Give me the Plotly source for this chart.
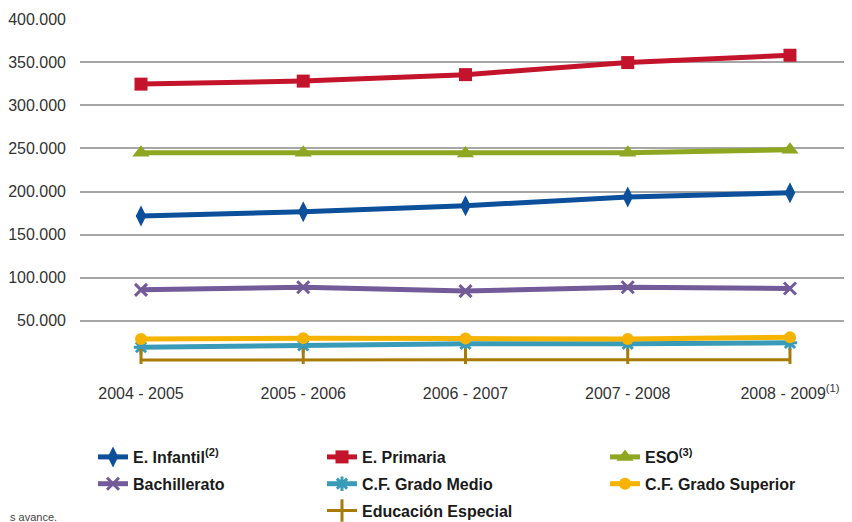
import plotly.graph_objects as go

categories = ["2004 - 2005", "2005 - 2006", "2006 - 2007", "2007 - 2008", "2008 - 2009<sup>(1)</sup>"]

infantil = [171500, 176500, 183500, 193500, 198500]
primaria = [324500, 328000, 335500, 349500, 358000]
eso = [245000, 245000, 244000, 245000, 248500]
bachillerato = [86000, 89000, 84500, 89000, 87500]
cf_medio = [19500, 21500, 23500, 23500, 24500]
cf_superior = [29000, 30000, 29500, 29000, 31000]
especial = [4500, 5000, 5000, 5000, 5000]

y_ticks = [0, 50000, 100000, 150000, 200000, 250000, 300000, 350000, 400000]
y_ticktext = ["", "50.000", "100.000", "150.000", "200.000", "250.000", "300.000", "350.000", "400.000"]

series = [
    ("E. Infantil<sup>(2)</sup>", infantil, "#0c4f9a", dict(symbol="diamond-tall", size=15), 5, "legend", 1),
    ("E. Primaria", primaria, "#c3142b", dict(symbol="square", size=13), 5, "legend2", 1),
    ("ESO<sup>(3)</sup>", eso, "#8ea620", dict(symbol="triangle-up", size=15), 5, "legend3", 1),
    ("Bachillerato", bachillerato, "#735a98", dict(symbol="x-thin", size=12, line=dict(width=3, color="#735a98")), 5, "legend", 2),
    ("C.F. Grado Medio", cf_medio, "#3a9bb9", dict(symbol="asterisk", size=12, line=dict(width=3, color="#3a9bb9")), 5, "legend2", 2),
    ("C.F. Grado Superior", cf_superior, "#f6b400", dict(symbol="circle", size=12), 5, "legend3", 2),
    ("Educación Especial", especial, "#a87a06", dict(symbol="line-ns", size=16, line=dict(width=3, color="#a87a06")), 3, "legend2", 3),
]

fig = go.Figure()
for name, vals, color, marker, lw, leg, rank in series:
    m = dict(color=color)
    m.update(marker)
    fig.add_trace(go.Scatter(
        x=list(range(len(categories))), y=vals, name=name, mode="lines+markers",
        line=dict(color=color, width=lw), marker=m, legend=leg, legendrank=rank,
        legendgroup=name,
    ))

# page has an 8px body margin; figure coordinates = page coordinates - 8
W, H = 844, 514
L, R, T, B = 72, 2, 11, 158
pw = W - L - R
ph = H - T - B

def px(x):
    return (x - L) / pw

def py(y):
    return (H - B - y) / ph

legfont = dict(family="Liberation Sans, Arial, sans-serif", size=16, color="#1a1a1a", weight="bold")
legcommon = dict(font=legfont, bgcolor="rgba(0,0,0,0)", xanchor="left", yanchor="top",
                 orientation="v", tracegroupgap=3, itemwidth=30)

fig.update_layout(
    width=W, height=H,
    margin=dict(l=L, r=R, t=T, b=B, autoexpand=False),
    paper_bgcolor="white", plot_bgcolor="white",
    font=dict(family="Liberation Sans, Arial, sans-serif", size=16, color="#333333"),
    xaxis=dict(range=[-0.376, 4.37], tickvals=list(range(len(categories))), ticktext=categories,
               showgrid=False, zeroline=False, showline=False, ticks="", ticklabelstandoff=18,
               automargin=False, tickfont=dict(size=16, color="#333333")),
    yaxis=dict(range=[0, 400000], tickvals=y_ticks, ticktext=y_ticktext, showgrid=True,
               gridcolor="#a6a6a6", gridwidth=1.5, zeroline=False, showline=False, ticks="",
               automargin=False, ticklabelstandoff=13, tickfont=dict(size=16, color="#333333")),
    legend=dict(x=px(85), y=py(432), **legcommon),
    legend2=dict(x=px(314), y=py(432), **legcommon),
    legend3=dict(x=px(597), y=py(432), **legcommon),
    showlegend=True,
    annotations=[dict(text="s avance.", xref="paper", yref="paper", x=px(0), y=py(509),
                      xanchor="left", yanchor="middle", showarrow=False,
                      font=dict(size=11, color="#444444"))],
)

fig.write_html("out.html")
